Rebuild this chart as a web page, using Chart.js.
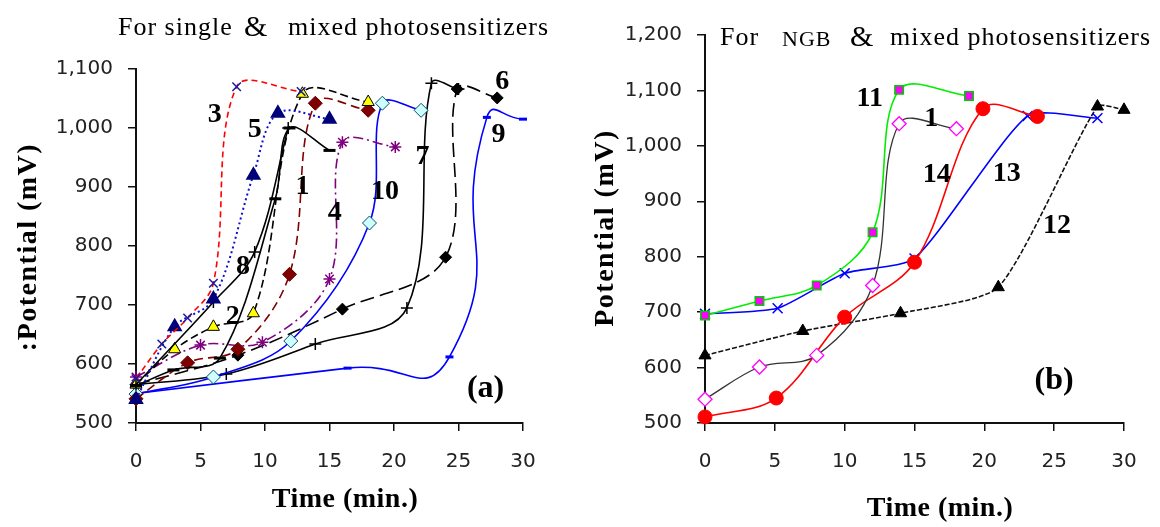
<!DOCTYPE html>
<html><head><meta charset="utf-8">
<script src="https://cdn.jsdelivr.net/npm/chart.js@4.4.0/dist/chart.umd.min.js"></script>
<style>
html,body{margin:0;padding:0;background:#fff;}
#wrap{position:relative;width:1160px;height:527px;overflow:hidden;background:#fff;}
canvas{position:absolute;top:0;}
#ca{left:0}
#cb{left:580px}
</style></head><body>
<div id="wrap"><canvas id="ca" width="580" height="527"></canvas><canvas id="cb" width="580" height="527"></canvas></div>
<script>
// ---------- shared ticks ----------
const timeTicks = [0, 5, 10, 15, 20, 25, 30];
const potTicksA = [500, 600, 700, 800, 900, 1000, 1100];
const potTicksB = [500, 600, 700, 800, 900, 1000, 1100, 1200];

// ---------- panel (a): time (min) / potential (mV) ----------
const a3T = [0, 2, 4, 6, 7.8, 12.8];          const a3V = [575, 634, 678, 737, 1070, 1062];
const a5T = [0, 3, 6, 9.1, 11, 15];           const a5V = [540, 663, 710, 920, 1025, 1015];
const a1T = [0, 2.9, 6.5, 10.8, 11.9, 15];    const a1V = [563, 590, 610, 880, 1000, 962];
const a8T = [0, 6, 9.2, 11.8];                const a8V = [565, 705, 790, 1000];
const a2T = [0, 3, 6, 9.1, 12.9, 18];         const a2V = [565, 625, 663, 686, 1058, 1044];
const aBT = [0, 4, 7.9, 11.9, 13.9, 18];      const aBV = [541, 602, 625, 752, 1042, 1030];
const a4T = [0, 5, 9.8, 15, 16, 20.1];        const a4V = [578, 632, 637, 744, 976, 968];
const a10T = [0, 6, 12, 18.1, 19.1, 22.1];    const a10V = [549, 578, 639, 839, 1042, 1030];
const a7T = [0, 7, 13.9, 21, 22.9, 25];       const a7V = [565, 583, 634, 695, 1076, 1066];
const a6T = [0, 7.9, 16, 24, 24.9, 28];       const a6V = [565, 615, 693, 781, 1066, 1051];
const a9T = [0, 16.4, 24.3, 27.2, 30];        const a9V = [550, 593, 612, 1018, 1015];

// ---------- panel (b) ----------
const b11T = [0, 3.9, 8, 12, 13.9, 18.9];     const b11V = [694, 720, 748, 844, 1101, 1090];
const b1T  = [0, 3.9, 8, 12, 13.9, 18];       const b1V  = [543, 601, 622, 748, 1040, 1031];
const b14T = [0, 5.1, 10, 15, 19.9, 23.8];    const b14V = [511, 545, 691, 790, 1067, 1053];
const b13T = [0, 5.2, 10, 15, 23.1, 28.1];    const b13V = [697, 707, 770, 797, 1054, 1050];
const b12T = [0, 7, 14, 21, 28.1, 30];        const b12V = [622, 666, 698, 745, 1071, 1065];

// series label names and anchor values (data coords)
const labA = ['3', '5', '1', '8', '2', '4', '10', '7', '6', '9'];
const labAT = [6.1, 9.2, 12.9, 8.3, 7.5, 15.4, 19.3, 22.2, 28.4, 28.1];
const labAV = [1022, 997, 900, 764, 680, 856, 892, 951, 1078, 988];
const labB = ['11', '1', '14', '13', '12'];
const labBT = [11.8, 16.2, 16.6, 21.6, 25.2];
const labBV = [1085, 1049, 948, 950, 855];

// ---------- helpers ----------
function ds(T, V, style) {
  return Object.assign({ data: T.map((t, i) => ({ x: t, y: V[i] })), clip: false, fill: false }, style);
}
const SERIF = '"Liberation Serif", "Times New Roman", serif';
const SANS = '"DejaVu Sans", sans-serif';

const annot = {
  id: 'annot',
  afterDatasetsDraw(chart, args, opts) {
    const ctx = chart.ctx, sx = chart.scales.x, sy = chart.scales.y;
    for (const it of (opts.items || [])) {
      ctx.save();
      ctx.font = it.font;
      ctx.fillStyle = it.color || '#000';
      ctx.textAlign = it.align || 'center';
      ctx.textBaseline = 'middle';
      try { ctx.letterSpacing = (it.spacing || 0) + 'px'; } catch (e) {}
      let x = it.px, y = it.py;
      if (it.t !== undefined) { x = sx.getPixelForValue(it.t); y = sy.getPixelForValue(it.v); }
      ctx.translate(x, y);
      if (it.rot) ctx.rotate(it.rot);
      ctx.fillText(it.text, 0, 0);
      ctx.restore();
    }
  }
};

function makeChart(id, datasets, yTicks, padTop, padRight, yWidth, items) {
  return new Chart(document.getElementById(id), {
    type: 'line',
    data: { datasets },
    options: {
      responsive: false, animation: false, devicePixelRatio: 1,
      layout: { padding: { left: 0, top: padTop, right: padRight, bottom: 0 } },
      plugins: { legend: { display: false }, tooltip: { enabled: false }, annot: { items } },
      elements: { line: { tension: 0.35, borderWidth: 1.6 }, point: { radius: 5, borderWidth: 1 } },
      scales: {
        x: {
          type: 'linear', min: timeTicks[0], max: timeTicks[timeTicks.length - 1],
          afterBuildTicks: s => { s.ticks = timeTicks.map(v => ({ value: v })); },
          ticks: { font: { family: SANS, size: 20 }, color: '#222', padding: 19, maxRotation: 0 },
          grid: { drawOnChartArea: false, drawTicks: true, tickLength: 8, color: '#111', lineWidth: 1.5 },
          border: { display: true, color: '#111', width: 2 },
          afterFit: s => { s.height = 104; }
        },
        y: {
          type: 'linear', min: yTicks[0], max: yTicks[yTicks.length - 1],
          afterBuildTicks: s => { s.ticks = yTicks.map(v => ({ value: v })); },
          ticks: { font: { family: SANS, size: 20 }, color: '#222', padding: 15,
                   callback: v => v.toLocaleString('en-US') },
          grid: { drawOnChartArea: false, drawTicks: true, tickLength: 8, color: '#111', lineWidth: 1.5 },
          border: { display: true, color: '#111', width: 2 },
          afterFit: s => { s.width = yWidth; }
        }
      }
    },
    plugins: [annot]
  });
}

// ---------- panel (a) datasets ----------
const dsA = [
  ds(a3T, a3V, { borderColor: '#ff0000', borderDash: [6, 4], pointStyle: 'crossRot', pointBorderColor: '#1a1a9a', pointBorderWidth: 1.5, pointRadius: 6 }),
  ds(a5T, a5V, { borderColor: '#1010d0', borderDash: [2, 3], borderWidth: 2, pointStyle: 'triangle', pointBackgroundColor: '#00007a', pointBorderColor: '#00007a', pointRadius: 7 }),
  ds(a1T, a1V, { borderColor: '#000', pointStyle: 'line', pointBorderColor: '#000', pointBorderWidth: 3, pointRadius: 6 }),
  ds(a8T, a8V, { borderColor: '#000', pointStyle: 'cross', pointBorderColor: '#000', pointBorderWidth: 1.5, pointRadius: 6 }),
  ds(a2T, a2V, { borderColor: '#000', borderDash: [8, 4], pointStyle: 'triangle', pointBackgroundColor: '#ffff00', pointBorderColor: '#000', pointRadius: 7 }),
  ds(aBT, aBV, { borderColor: '#800000', borderDash: [9, 5], pointStyle: 'rectRot', pointBackgroundColor: '#800000', pointBorderColor: '#600000', pointRadius: 7 }),
  ds(a4T, a4V, { borderColor: '#800080', borderDash: [10, 4, 2, 4], pointStyle: 'star', pointBorderColor: '#800080', pointBorderWidth: 1.5, pointRadius: 6 }),
  ds(a10T, a10V, { borderColor: '#0000ff', pointStyle: 'rectRot', pointBackgroundColor: '#ccffff', pointBorderColor: '#0a4a6a', pointRadius: 7 }),
  ds(a7T, a7V, { borderColor: '#000', pointStyle: 'cross', pointBorderColor: '#000', pointBorderWidth: 1.5, pointRadius: 6 }),
  ds(a6T, a6V, { borderColor: '#000', borderDash: [14, 6], pointStyle: 'rectRot', pointBackgroundColor: '#000', pointBorderColor: '#000', pointRadius: 6 }),
  ds(a9T, a9V, { borderColor: '#0000ff', tension: 0.6, pointStyle: 'line', pointBorderColor: '#0000ff', pointBorderWidth: 3, pointRadius: 4 })
];

const itemsA = labA.map((s, i) => ({ text: s, t: labAT[i], v: labAV[i], font: 'bold 28px ' + SERIF }));
itemsA.push({ text: '(a)', t: 27.1, v: 558, font: 'bold 32px ' + SERIF });
itemsA.push({ text: 'For single', px: 118, py: 28, align: 'left', font: '26px ' + SERIF, spacing: 1 });
itemsA.push({ text: '&', px: 244, py: 28, align: 'left', font: '30px ' + SERIF });
itemsA.push({ text: 'mixed photosensitizers', px: 288, py: 28, align: 'left', font: '26px ' + SERIF, spacing: 1 });
itemsA.push({ text: ':Potential (mV)', px: 29, py: 247, rot: -Math.PI / 2, font: 'bold 28px ' + SERIF, spacing: 1.5 });
itemsA.push({ text: 'Time (min.)', px: 345, py: 500, font: 'bold 28px ' + SERIF, spacing: 0.5 });

makeChart('ca', dsA, potTicksA, 69, 57, 136, itemsA);

// ---------- panel (b) datasets ----------
const dsB = [
  ds(b11T, b11V, { borderColor: '#00ee00', pointStyle: 'rect', pointBackgroundColor: '#ff00ff', pointBorderColor: '#00cc00', pointBorderWidth: 1.5, pointRadius: 6 }),
  ds(b1T, b1V, { borderColor: '#333', borderWidth: 1.3, pointStyle: 'rectRot', pointBackgroundColor: '#fff', pointBorderColor: '#ff00ff', pointBorderWidth: 1.3, pointRadius: 7 }),
  ds(b14T, b14V, { borderColor: '#ff0000', pointStyle: 'circle', pointBackgroundColor: '#ff0000', pointBorderColor: '#ff0000', pointRadius: 7 }),
  ds(b13T, b13V, { borderColor: '#0000ff', tension: 0.2, pointStyle: 'crossRot', pointBorderColor: '#0000ff', pointBorderWidth: 1.5, pointRadius: 7 }),
  ds(b12T, b12V, { borderColor: '#111', tension: 0.2, borderDash: [5, 2], pointStyle: 'triangle', pointBackgroundColor: '#000', pointBorderColor: '#000', pointRadius: 7 })
];

const itemsB = labB.map((s, i) => ({ text: s, t: labBT[i], v: labBV[i], font: 'bold 28px ' + SERIF }));
itemsB.push({ text: '(b)', t: 25.0, v: 577, font: 'bold 32px ' + SERIF });
itemsB.push({ text: 'For', px: 140, py: 38, align: 'left', font: '26px ' + SERIF, spacing: 1 });
itemsB.push({ text: 'NGB', px: 202, py: 40, align: 'left', font: '22px ' + SERIF, spacing: 1 });
itemsB.push({ text: '&', px: 270, py: 38, align: 'left', font: '30px ' + SERIF });
itemsB.push({ text: 'mixed photosensitizers', px: 310, py: 38, align: 'left', font: '26px ' + SERIF, spacing: 1 });
itemsB.push({ text: 'Potential (mV)', px: 26, py: 228, rot: -Math.PI / 2, font: 'bold 28px ' + SERIF, spacing: 1.5 });
itemsB.push({ text: 'Time (min.)', px: 360, py: 509, font: 'bold 28px ' + SERIF, spacing: 0.5 });

makeChart('cb', dsB, potTicksB, 35, 36, 125, itemsB);
</script>
</body></html>
